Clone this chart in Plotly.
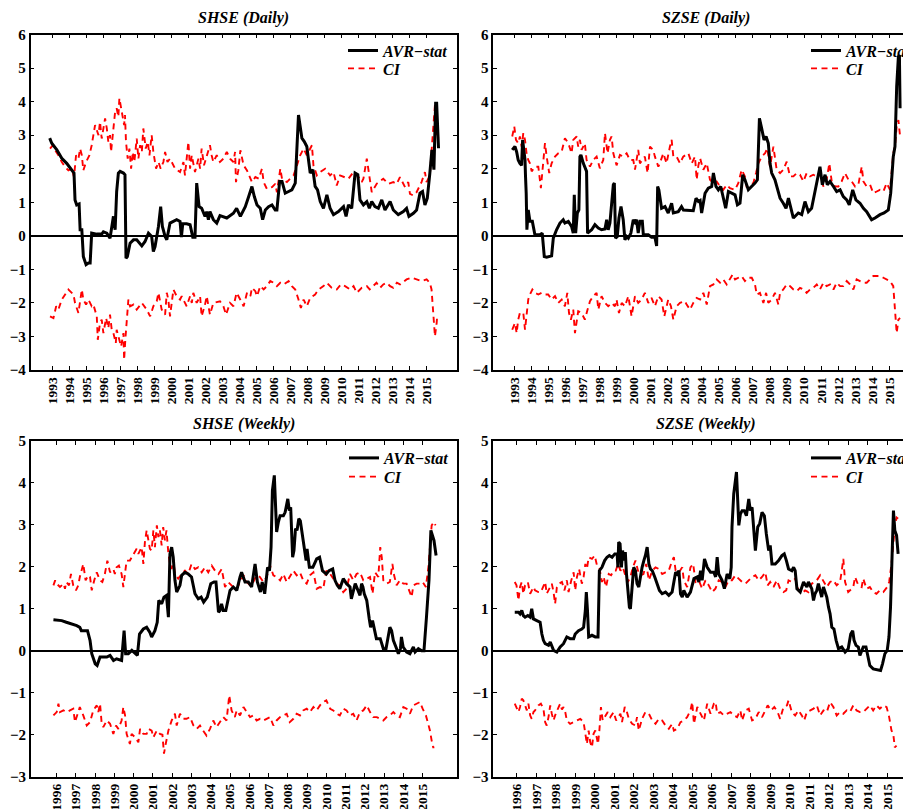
import plotly.graph_objects as go

# The page body has an 8px margin, so the figure is drawn 8px in from the top-left corner.
OFF = 8
PAGE_W, PAGE_H = 911, 809
W, H = PAGE_W - OFF, PAGE_H - OFF
FONT = "Liberation Serif"

# ---------------- data: (year, value) ----------------
shse_daily_avr = [
(1992.82,2.91),(1992.94,2.76),(1993.24,2.56),(1993.53,2.31),(1993.82,2.16),(1994.10,1.97),(1994.25,1.87),
(1994.31,1.07),(1994.41,0.92),(1994.55,0.95),(1994.61,0.18),(1994.71,0.18),(1994.80,-0.62),(1994.96,-0.86),
(1995.10,-0.81),(1995.20,-0.81),(1995.29,0.08),(1995.59,0.05),(1995.88,0.05),(1995.98,0.12),(1996.18,0.08),
(1996.37,-0.07),(1996.57,0.58),(1996.67,0.18),(1996.76,1.32),(1996.86,1.87),(1996.96,1.92),(1997.16,1.87),
(1997.25,1.82),(1997.31,-0.67),(1997.39,-0.62),(1997.55,-0.22),(1997.75,-0.12),(1997.94,-0.12),(1998.14,-0.22),
(1998.24,-0.30),(1998.43,-0.17),(1998.63,0.08),(1998.82,-0.02),(1998.92,-0.47),(1999.02,-0.32),(1999.22,0.28),
(1999.35,0.87),(1999.45,0.28),(1999.61,-0.02),(1999.71,-0.12),(1999.90,0.38),(2000.10,0.43),(2000.29,0.48),
(2000.49,0.43),(2000.57,-0.04),(2000.65,0.36),(2000.88,0.36),(2001.08,0.33),(2001.24,-0.04),(2001.37,-0.04),
(2001.47,1.57),(2001.61,0.87),(2001.76,0.82),(2001.96,0.58),(2002.06,0.72),(2002.16,0.48),(2002.25,0.72),
(2002.45,0.48),(2002.65,0.38),(2002.84,0.60),(2003.24,0.53),(2003.63,0.67),(2003.82,0.82),(2004.04,0.58),
(2004.33,0.87),(2004.53,1.17),(2004.72,1.47),(2004.86,1.17),(2005.02,0.92),(2005.21,0.82),(2005.35,0.48),
(2005.51,0.77),(2005.70,0.87),(2005.90,0.92),(2006.09,0.77),(2006.19,0.77),(2006.35,1.62),(2006.49,1.62),
(2006.68,1.27),(2006.88,1.32),(2007.07,1.37),(2007.27,1.57),(2007.37,2.66),(2007.46,3.60),(2007.56,3.26),
(2007.66,2.91),(2007.80,2.81),(2007.95,2.66),(2008.05,2.26),(2008.15,1.87),(2008.31,1.97),(2008.44,1.47),
(2008.58,1.37),(2008.74,1.02),(2008.93,0.82),(2009.13,1.22),(2009.32,0.82),(2009.52,0.63),(2009.81,0.72),
(2010.11,0.87),(2010.26,0.58),(2010.40,0.92),(2010.59,0.82),(2010.79,1.87),(2010.95,1.82),(2011.08,1.07),
(2011.28,0.92),(2011.48,1.02),(2011.63,0.82),(2011.77,1.02),(2011.96,0.87),(2012.16,0.82),(2012.36,1.07),
(2012.55,0.77),(2012.85,1.02),(2013.04,0.77),(2013.33,0.63),(2013.63,0.72),(2013.82,0.82),(2013.96,0.58),
(2014.22,0.67),(2014.41,0.77),(2014.61,1.27),(2014.76,1.32),(2014.90,0.92),(2015.04,1.12),(2015.19,1.87),
(2015.31,2.56),(2015.43,1.97),(2015.53,3.95),(2015.59,3.95),(2015.64,3.06),(2015.70,2.61)]

shse_daily_ci_up = [
(1992.84,2.6),(1993.00,2.7),(1993.14,2.55),(1993.33,2.4),(1993.53,2.2),(1993.73,2.05),(1993.92,1.95),
(1994.12,2.0),(1994.25,1.75),(1994.37,2.4),(1994.51,2.3),(1994.61,2.6),(1994.71,2.4),(1994.80,1.95),
(1994.96,2.2),(1995.16,2.4),(1995.29,2.7),(1995.49,3.3),(1995.69,3.0),(1995.78,3.4),(1995.88,2.9),
(1996.08,3.5),(1996.18,3.2),(1996.27,2.8),(1996.37,3.0),(1996.43,2.5),(1996.67,3.7),(1996.76,3.8),
(1996.86,3.55),(1996.92,4.1),(1997.06,3.7),(1997.20,3.3),(1997.25,3.6),(1997.31,2.8),(1997.41,2.3),
(1997.51,2.6),(1997.61,2.0),(1997.71,2.5),(1997.80,2.2),(1997.94,2.9),(1998.04,2.3),(1998.14,2.7),
(1998.24,2.5),(1998.33,3.2),(1998.47,2.6),(1998.59,2.8),(1998.69,2.4),(1998.82,3.0),(1998.92,2.5),
(1999.08,2.0),(1999.22,2.2),(1999.35,2.0),(1999.51,2.2),(1999.61,2.5),(1999.75,2.2),(1999.90,2.3),
(2000.20,2.0),(2000.49,1.9),(2000.69,2.2),(2000.78,1.8),(2000.88,2.3),(2000.98,2.8),(2001.08,2.0),
(2001.18,2.4),(2001.37,1.9),(2001.57,2.3),(2001.67,2.0),(2001.76,2.6),(2001.90,2.1),(2002.06,2.4),
(2002.25,2.7),(2002.35,2.4),(2002.45,2.2),(2002.65,2.4),(2002.84,2.2),(2003.04,2.3),(2003.24,2.5),
(2003.43,2.3),(2003.63,2.2),(2003.73,2.5),(2003.78,1.6),(2003.92,1.95),(2004.04,2.55),(2004.23,2.1),
(2004.43,1.95),(2004.72,1.6),(2004.92,1.75),(2005.12,1.7),(2005.31,2.0),(2005.41,1.6),(2005.60,1.4),
(2005.90,1.45),(2006.09,1.55),(2006.19,1.3),(2006.39,2.0),(2006.49,1.7),(2006.78,1.6),(2006.97,1.7),
(2007.17,1.8),(2007.37,2.1),(2007.56,2.4),(2007.76,2.6),(2007.95,2.4),(2008.25,2.7),(2008.34,2.1),
(2008.54,1.8),(2008.74,1.9),(2009.03,2.0),(2009.32,1.8),(2009.52,1.9),(2009.71,1.5),(2009.91,1.8),
(2010.20,1.75),(2010.40,1.7),(2010.69,1.9),(2010.99,1.75),(2011.18,1.6),(2011.28,1.7),(2011.48,2.3),
(2011.67,1.6),(2011.77,1.3),(2012.06,1.55),(2012.45,1.7),(2012.75,1.55),(2013.04,1.6),(2013.24,1.55),
(2013.43,1.75),(2013.73,1.45),(2013.92,1.6),(2014.02,1.25),(2014.22,1.2),(2014.41,1.3),(2014.61,1.5),
(2014.70,1.6),(2014.90,1.9),(2015.00,1.6),(2015.19,1.8),(2015.29,2.4),(2015.43,3.5),(2015.49,3.9),
(2015.59,3.0),(2015.62,3.4),(2015.68,2.9)]

shse_daily_ci_low = [
(1992.84,-2.4),(1993.04,-2.45),(1993.20,-2.1),(1993.33,-2.2),(1993.53,-1.9),(1993.73,-1.75),(1993.92,-1.6),
(1994.12,-1.7),(1994.22,-1.75),(1994.31,-2.0),(1994.51,-2.3),(1994.61,-1.95),(1994.71,-1.6),(1994.80,-1.9),
(1994.96,-2.05),(1995.10,-1.9),(1995.29,-2.1),(1995.39,-2.05),(1995.59,-2.4),(1995.65,-3.1),(1995.78,-2.6),
(1995.88,-2.5),(1995.98,-2.9),(1996.14,-2.45),(1996.27,-2.75),(1996.37,-2.35),(1996.47,-2.8),(1996.57,-2.9),
(1996.71,-3.2),(1996.76,-2.8),(1996.92,-3.1),(1997.02,-3.3),(1997.16,-2.9),(1997.20,-3.7),(1997.27,-3.1),
(1997.35,-2.5),(1997.45,-1.9),(1997.55,-2.1),(1997.75,-2.05),(1997.94,-2.2),(1998.24,-2.0),(1998.53,-2.2),
(1998.73,-2.4),(1998.92,-2.1),(1999.12,-1.95),(1999.22,-1.7),(1999.41,-2.2),(1999.61,-2.35),(1999.71,-1.7),
(1999.80,-1.9),(1999.90,-2.4),(2000.10,-1.6),(2000.29,-1.8),(2000.49,-1.9),(2000.59,-1.8),(2000.78,-2.0),
(2000.88,-2.1),(2001.08,-1.8),(2001.18,-2.0),(2001.27,-1.7),(2001.47,-2.0),(2001.67,-1.8),(2001.76,-2.4),
(2001.96,-2.05),(2002.06,-1.8),(2002.25,-2.35),(2002.45,-2.0),(2002.84,-1.95),(2003.04,-2.1),(2003.20,-2.35),
(2003.43,-2.0),(2003.63,-2.1),(2003.82,-1.7),(2004.03,-1.9),(2004.23,-2.1),(2004.43,-1.7),(2004.63,-1.8),
(2004.72,-1.55),(2004.92,-1.65),(2005.02,-1.8),(2005.21,-1.5),(2005.41,-1.6),(2005.60,-1.5),(2005.80,-1.35),
(2006.00,-1.4),(2006.19,-1.5),(2006.39,-1.4),(2006.58,-1.45),(2006.88,-1.35),(2007.07,-1.5),(2007.27,-1.6),
(2007.46,-1.9),(2007.60,-2.15),(2007.76,-1.9),(2007.95,-2.1),(2008.15,-1.85),(2008.44,-1.75),(2008.64,-1.6),
(2008.93,-1.5),(2009.13,-1.4),(2009.42,-1.55),(2009.71,-1.6),(2009.95,-1.45),(2010.20,-1.5),(2010.50,-1.6),
(2010.70,-1.5),(2010.89,-1.7),(2011.18,-1.55),(2011.48,-1.5),(2011.65,-1.6),(2011.87,-1.5),(2012.05,-1.4),
(2012.26,-1.55),(2012.45,-1.45),(2012.65,-1.4),(2012.85,-1.5),(2013.04,-1.55),(2013.25,-1.4),(2013.43,-1.45),
(2013.65,-1.35),(2013.82,-1.3),(2014.12,-1.25),(2014.41,-1.3),(2014.70,-1.35),(2015.00,-1.3),(2015.19,-1.4),
(2015.29,-1.6),(2015.39,-2.4),(2015.49,-3.0),(2015.59,-2.6),(2015.62,-2.4)]

szse_daily_avr = [
(1992.88,2.56),(1993.04,2.66),(1993.14,2.50),(1993.23,2.26),(1993.33,2.16),(1993.43,2.10),(1993.49,2.86),
(1993.57,2.50),(1993.63,2.26),(1993.66,1.77),(1993.70,1.27),(1993.74,0.18),(1993.82,0.77),(1993.92,0.43),
(1994.06,0.43),(1994.21,0.03),(1994.51,0.03),(1994.64,0.08),(1994.76,-0.62),(1994.90,-0.64),(1995.19,-0.60),
(1995.29,-0.07),(1995.48,0.18),(1995.68,0.38),(1995.87,0.48),(1995.97,0.38),(1996.17,0.43),(1996.36,0.28),
(1996.46,0.08),(1996.52,1.22),(1996.60,0.08),(1996.70,0.68),(1996.79,0.77),(1996.85,2.36),(1996.91,2.41),
(1997.05,2.16),(1997.18,1.97),(1997.24,1.92),(1997.30,0.08),(1997.54,0.18),(1997.73,0.33),(1997.93,0.23),
(1998.12,0.18),(1998.32,0.20),(1998.42,0.48),(1998.51,0.18),(1998.61,0.38),(1998.71,0.87),(1998.81,1.52),
(1998.87,1.57),(1998.94,-0.07),(1999.04,-0.02),(1999.14,0.53),(1999.26,0.87),(1999.39,0.48),(1999.49,-0.12),
(1999.59,-0.02),(1999.69,-0.07),(1999.84,0.08),(1999.98,0.48),(2000.08,0.40),(2000.17,0.48),(2000.27,0.08),
(2000.37,0.43),(2000.51,0.43),(2000.57,0.03),(2000.86,0.03),(2001.05,-0.04),(2001.25,-0.04),(2001.35,-0.30),
(2001.41,1.47),(2001.48,1.37),(2001.64,0.82),(2001.84,0.87),(2002.03,0.68),(2002.23,0.97),(2002.33,0.68),
(2002.62,0.72),(2002.81,0.87),(2002.92,0.77),(2003.50,0.75),(2003.66,1.12),(2003.80,1.02),(2003.90,1.05),
(2003.99,0.68),(2004.19,1.27),(2004.38,1.42),(2004.58,1.47),(2004.68,1.87),(2004.83,1.47),(2004.97,1.37),
(2005.11,1.47),(2005.26,1.17),(2005.40,0.82),(2005.56,1.32),(2005.75,1.27),(2005.95,1.22),(2006.09,0.92),
(2006.24,0.97),(2006.40,1.82),(2006.53,1.67),(2006.73,1.37),(2006.93,1.47),(2007.12,1.57),(2007.26,1.67),
(2007.38,3.50),(2007.51,3.20),(2007.65,2.86),(2007.77,2.96),(2007.90,2.76),(2008.00,2.16),(2008.10,1.87),
(2008.29,1.67),(2008.43,1.37),(2008.59,1.12),(2008.78,0.97),(2008.94,0.82),(2009.08,1.12),(2009.23,0.77),
(2009.37,0.53),(2009.66,0.68),(2009.86,0.63),(2010.05,1.02),(2010.25,0.72),(2010.44,0.82),(2010.64,1.32),
(2010.78,1.77),(2010.93,2.06),(2011.07,1.52),(2011.23,1.82),(2011.36,1.52),(2011.52,1.62),(2011.72,1.47),
(2011.91,1.32),(2012.11,1.37),(2012.30,1.17),(2012.50,1.07),(2012.65,0.92),(2012.85,1.37),(2013.04,1.07),
(2013.28,0.97),(2013.48,0.82),(2013.67,0.72),(2013.87,0.58),(2013.96,0.48),(2014.16,0.53),(2014.45,0.63),
(2014.69,0.68),(2014.94,0.77),(2015.08,1.27),(2015.23,2.36),(2015.33,2.66),(2015.43,4.45),(2015.53,5.34),
(2015.59,5.39),(2015.63,3.80)]

szse_daily_ci_up = [
(1992.88,2.96),(1993.00,3.26),(1993.10,2.86),(1993.23,2.76),(1993.33,2.96),(1993.43,2.66),(1993.53,3.06),
(1993.63,2.86),(1993.72,2.46),(1993.82,2.26),(1993.92,2.16),(1994.02,1.92),(1994.21,2.06),(1994.41,2.06),
(1994.56,1.42),(1994.64,1.87),(1994.80,2.76),(1994.90,2.36),(1995.05,1.87),(1995.19,2.16),(1995.39,2.36),
(1995.58,2.46),(1995.78,2.51),(1995.97,2.91),(1996.17,2.76),(1996.36,2.46),(1996.46,2.86),(1996.66,2.96),
(1996.75,2.66),(1996.85,2.86),(1996.95,2.56),(1997.14,2.76),(1997.24,2.26),(1997.44,2.06),(1997.63,2.26),
(1997.83,2.36),(1998.02,2.01),(1998.22,2.26),(1998.32,3.06),(1998.47,2.46),(1998.61,2.86),(1998.71,2.96),
(1998.81,2.46),(1999.00,2.10),(1999.20,2.41),(1999.39,2.36),(1999.59,2.46),(1999.78,2.26),(1999.98,2.26),
(2000.08,1.97),(2000.27,2.56),(2000.37,2.16),(2000.66,2.36),(2000.82,1.87),(2000.96,2.66),(2001.15,2.56),
(2001.25,2.36),(2001.45,2.06),(2001.54,2.16),(2001.74,2.46),(2001.93,2.16),(2002.13,2.66),(2002.23,2.86),
(2002.33,2.36),(2002.52,2.36),(2002.72,2.16),(2002.91,2.36),(2003.21,2.46),(2003.41,2.16),(2003.60,2.36),
(2003.70,1.67),(2003.80,2.10),(2003.90,2.31),(2004.09,1.97),(2004.29,2.16),(2004.48,1.67),(2004.68,1.57),
(2004.87,1.62),(2005.07,1.47),(2005.26,1.37),(2005.46,1.52),(2005.65,1.42),(2005.95,1.37),(2006.14,1.57),
(2006.34,1.97),(2006.53,1.77),(2006.63,1.47),(2006.83,1.52),(2007.02,1.57),(2007.18,1.87),(2007.32,2.16),
(2007.51,2.36),(2007.71,2.46),(2007.84,2.61),(2008.00,2.06),(2008.20,2.66),(2008.39,1.97),(2008.59,1.87),
(2008.78,1.97),(2008.98,2.21),(2009.17,1.77),(2009.37,1.77),(2009.57,1.87),(2009.76,1.82),(2009.96,1.62),
(2010.15,1.87),(2010.35,1.77),(2010.54,1.82),(2010.74,1.77),(2010.93,1.87),(2011.13,1.47),(2011.32,1.67),
(2011.48,2.16),(2011.62,1.62),(2011.81,1.47),(2012.01,1.47),(2012.20,1.62),(2012.40,1.87),(2012.60,1.67),
(2012.79,1.62),(2012.99,1.47),(2013.18,1.52),(2013.38,2.06),(2013.48,1.62),(2013.67,1.47),(2013.87,1.52),
(2014.06,1.27),(2014.26,1.32),(2014.45,1.37),(2014.65,1.32),(2014.84,1.57),(2015.04,1.37),(2015.23,2.46),
(2015.33,2.66),(2015.43,3.26),(2015.53,3.45),(2015.63,2.96)]

szse_daily_ci_low = [
(1992.88,-2.8),(1993.04,-2.6),(1993.14,-2.9),(1993.23,-2.5),(1993.33,-2.3),(1993.53,-2.3),(1993.63,-2.8),
(1993.72,-2.3),(1993.82,-1.9),(1993.92,-1.75),(1994.06,-1.6),(1994.21,-1.7),(1994.41,-1.75),(1994.60,-1.7),
(1994.80,-1.75),(1994.99,-1.75),(1995.19,-1.9),(1995.39,-1.8),(1995.58,-2.0),(1995.78,-1.9),(1995.97,-2.1),
(1996.11,-1.7),(1996.21,-2.3),(1996.32,-2.5),(1996.46,-2.2),(1996.56,-2.9),(1996.66,-2.5),(1996.75,-2.25),
(1996.95,-2.3),(1997.14,-2.5),(1997.30,-2.2),(1997.44,-1.95),(1997.63,-1.8),(1997.83,-1.7),(1997.93,-2.2),
(1998.12,-1.8),(1998.32,-2.0),(1998.51,-2.1),(1998.71,-2.0),(1998.90,-2.1),(1999.00,-1.9),(1999.14,-2.3),
(1999.30,-2.0),(1999.49,-2.1),(1999.69,-1.8),(1999.88,-2.4),(2000.08,-1.8),(2000.27,-2.0),(2000.47,-1.9),
(2000.66,-1.7),(2000.86,-2.0),(2001.05,-1.85),(2001.25,-2.1),(2001.45,-1.8),(2001.64,-1.9),(2001.80,-2.4),
(2002.03,-1.9),(2002.19,-2.1),(2002.33,-2.5),(2002.52,-2.1),(2002.72,-2.0),(2003.01,-1.95),(2003.11,-2.05),
(2003.31,-2.2),(2003.50,-2.0),(2003.70,-1.85),(2003.90,-1.9),(2004.09,-1.7),(2004.29,-2.05),(2004.48,-1.5),
(2004.68,-1.45),(2004.87,-1.3),(2005.07,-1.4),(2005.26,-1.3),(2005.46,-1.45),(2005.65,-1.3),(2005.81,-1.15),
(2005.95,-1.3),(2006.14,-1.25),(2006.34,-1.2),(2006.53,-1.35),(2006.73,-1.25),(2006.93,-1.25),(2007.12,-1.45),
(2007.22,-1.75),(2007.41,-1.7),(2007.61,-2.0),(2007.77,-1.7),(2007.90,-2.0),(2008.10,-1.9),(2008.29,-1.7),
(2008.49,-2.05),(2008.59,-1.7),(2008.78,-1.6),(2008.98,-1.45),(2009.17,-1.5),(2009.37,-1.6),(2009.57,-1.65),
(2009.76,-1.55),(2009.96,-1.6),(2010.15,-1.7),(2010.35,-1.6),(2010.54,-1.55),(2010.74,-1.45),(2010.93,-1.6),
(2011.13,-1.4),(2011.32,-1.5),(2011.52,-1.45),(2011.72,-1.6),(2011.91,-1.4),(2012.11,-1.5),(2012.30,-1.5),
(2012.50,-1.35),(2012.69,-1.45),(2012.89,-1.6),(2013.08,-1.3),(2013.28,-1.35),(2013.48,-1.4),(2013.67,-1.4),
(2013.87,-1.3),(2014.06,-1.2),(2014.26,-1.2),(2014.45,-1.2),(2014.65,-1.25),(2014.84,-1.3),(2015.04,-1.35),
(2015.23,-1.5),(2015.33,-2.1),(2015.43,-2.9),(2015.53,-2.5),(2015.63,-2.45)]

shse_weekly_avr = [
(1995.83,0.74),(1996.26,0.72),(1996.50,0.68),(1996.78,0.64),(1997.04,0.60),(1997.20,0.56),(1997.28,0.48),
(1997.60,0.48),(1997.73,0.25),(1997.82,-0.07),(1998.00,-0.31),(1998.10,-0.35),(1998.25,-0.15),(1998.60,-0.15),
(1998.77,-0.11),(1998.95,-0.23),(1999.11,-0.19),(1999.37,-0.23),(1999.50,0.48),(1999.58,-0.07),(1999.72,-0.07),
(1999.90,0.01),(2000.07,-0.07),(2000.19,-0.11),(2000.30,0.40),(2000.50,0.52),(2000.67,0.56),(2000.84,0.44),
(2000.93,0.33),(2001.10,0.48),(2001.22,0.68),(2001.30,1.20),(2001.45,1.12),(2001.57,1.28),(2001.70,1.32),
(2001.80,0.80),(2001.88,2.31),(2001.97,2.47),(2002.05,2.23),(2002.14,1.68),(2002.23,1.40),(2002.40,1.56),
(2002.49,1.80),(2002.66,1.87),(2002.83,1.83),(2003.00,1.76),(2003.18,1.36),(2003.35,1.24),(2003.50,1.28),
(2003.63,1.16),(2003.82,1.28),(2004.00,1.60),(2004.17,1.64),(2004.27,1.64),(2004.40,0.92),(2004.48,0.96),
(2004.56,1.12),(2004.65,0.96),(2004.78,0.96),(2005.00,1.44),(2005.17,1.52),(2005.35,1.44),(2005.52,1.76),
(2005.60,1.87),(2005.78,1.64),(2005.95,1.64),(2006.12,1.52),(2006.30,2.07),(2006.42,1.64),(2006.58,1.40),
(2006.67,1.64),(2006.80,1.36),(2006.95,1.99),(2007.05,1.91),(2007.13,2.47),(2007.20,3.82),(2007.30,4.18),
(2007.36,3.66),(2007.42,2.83),(2007.51,3.07),(2007.60,3.22),(2007.77,3.22),(2007.86,3.30),(2008.00,3.62),
(2008.08,3.34),(2008.15,3.42),(2008.25,2.23),(2008.32,2.39),(2008.40,2.91),(2008.48,2.87),(2008.57,3.15),
(2008.65,3.10),(2008.80,2.67),(2008.95,2.15),(2009.00,2.43),(2009.12,1.99),(2009.30,1.99),(2009.50,2.19),
(2009.65,2.23),(2009.80,1.91),(2010.00,1.83),(2010.14,1.91),(2010.33,1.95),(2010.45,1.68),(2010.57,1.56),
(2010.70,1.48),(2010.88,1.72),(2011.05,1.60),(2011.23,1.52),(2011.30,1.24),(2011.50,1.60),(2011.66,1.44),
(2011.75,1.32),(2011.83,1.60),(2011.90,1.52),(2011.97,1.36),(2012.10,1.20),(2012.23,0.76),(2012.30,0.56),
(2012.40,0.72),(2012.53,0.40),(2012.60,0.29),(2012.80,0.29),(2012.96,0.05),(2013.10,0.05),(2013.22,0.37),
(2013.30,0.56),(2013.39,0.48),(2013.48,0.25),(2013.65,0.05),(2013.74,-0.07),(2013.85,0.05),(2013.90,0.33),
(2013.99,0.09),(2014.17,-0.03),(2014.34,-0.07),(2014.52,0.09),(2014.61,-0.03),(2014.78,0.05),(2014.95,0.00),
(2015.07,0.00),(2015.20,0.80),(2015.33,1.68),(2015.43,2.87),(2015.51,2.75),(2015.59,2.63),(2015.70,2.27)]

shse_weekly_ci_up = [
(1995.83,1.56),(1995.92,1.68),(1996.00,1.60),(1996.17,1.52),(1996.35,1.60),(1996.43,1.48),(1996.50,1.64),
(1996.64,1.56),(1996.74,1.83),(1996.86,1.56),(1997.00,1.44),(1997.12,1.56),(1997.20,1.76),(1997.38,2.07),
(1997.50,1.68),(1997.64,1.80),(1997.73,1.76),(1997.82,1.44),(1997.95,1.68),(1998.08,1.87),(1998.25,1.68),
(1998.37,1.64),(1998.50,1.83),(1998.63,2.15),(1998.77,1.87),(1998.94,1.95),(1999.02,1.83),(1999.11,1.99),
(1999.23,2.03),(1999.37,1.83),(1999.46,1.52),(1999.55,1.91),(1999.63,2.15),(1999.80,2.15),(1999.98,2.31),
(2000.15,2.43),(2000.24,2.31),(2000.41,2.47),(2000.50,2.07),(2000.58,2.59),(2000.67,2.87),(2000.76,2.63),
(2000.84,2.43),(2000.93,2.39),(2001.02,2.87),(2001.10,2.47),(2001.20,2.99),(2001.28,2.71),(2001.36,2.87),
(2001.45,2.51),(2001.53,2.95),(2001.62,2.63),(2001.70,2.87),(2001.80,2.31),(2001.88,2.07),(2001.97,1.95),
(2002.05,2.19),(2002.14,1.83),(2002.31,1.72),(2002.49,1.83),(2002.66,1.91),(2002.83,1.83),(2003.00,2.07),
(2003.18,1.95),(2003.35,1.99),(2003.53,1.87),(2003.70,1.99),(2003.87,1.87),(2004.05,2.03),(2004.22,1.91),
(2004.40,1.83),(2004.57,1.95),(2004.74,1.52),(2004.90,1.64),(2005.08,1.56),(2005.25,1.48),(2005.35,1.48),
(2005.52,1.64),(2005.70,1.80),(2005.87,1.64),(2006.04,1.56),(2006.21,1.64),(2006.38,1.80),(2006.55,1.76),
(2006.73,1.64),(2006.90,1.76),(2007.08,2.03),(2007.25,1.80),(2007.42,1.76),(2007.60,1.68),(2007.77,1.83),
(2007.94,1.64),(2008.10,1.76),(2008.29,1.91),(2008.46,1.80),(2008.63,1.87),(2008.80,1.68),(2008.98,1.60),
(2009.15,1.80),(2009.33,1.87),(2009.50,1.48),(2009.67,1.52),(2009.84,1.48),(2010.00,1.91),(2010.20,1.83),
(2010.36,1.72),(2010.54,1.60),(2010.70,1.56),(2010.88,1.40),(2011.05,1.48),(2011.23,1.83),(2011.40,1.68),
(2011.57,1.83),(2011.75,1.87),(2011.92,1.68),(2012.10,1.72),(2012.27,1.76),(2012.40,1.36),(2012.53,1.87),
(2012.70,1.76),(2012.80,2.47),(2012.88,2.23),(2012.96,1.68),(2013.13,1.60),(2013.30,1.64),(2013.43,2.07),
(2013.52,1.80),(2013.65,1.56),(2013.82,1.68),(2014.00,1.60),(2014.17,1.60),(2014.43,1.28),(2014.52,1.56),
(2014.69,1.60),(2014.86,1.60),(2015.00,1.64),(2015.17,1.52),(2015.30,1.99),(2015.38,2.55),(2015.47,2.99),
(2015.59,3.07),(2015.67,2.99)]

shse_weekly_ci_low = [
(1995.83,-1.54),(1996.00,-1.46),(1996.09,-1.26),(1996.17,-1.46),(1996.35,-1.42),(1996.52,-1.46),(1996.69,-1.42),
(1996.86,-1.38),(1996.95,-1.70),(1997.12,-1.46),(1997.20,-1.34),(1997.38,-1.54),(1997.56,-1.78),(1997.73,-1.70),
(1997.90,-1.42),(1998.08,-1.30),(1998.16,-1.46),(1998.25,-1.26),(1998.33,-1.70),(1998.42,-1.82),(1998.60,-1.66),
(1998.77,-1.74),(1998.94,-1.98),(1999.08,-1.78),(1999.20,-1.86),(1999.37,-1.66),(1999.46,-1.34),(1999.55,-1.54),
(1999.63,-1.98),(1999.80,-2.22),(1999.89,-1.98),(2000.07,-2.06),(2000.24,-2.18),(2000.33,-1.86),(2000.50,-1.98),
(2000.67,-1.98),(2000.76,-1.86),(2000.93,-1.90),(2001.02,-2.06),(2001.20,-1.90),(2001.36,-1.98),(2001.49,-2.00),
(2001.57,-2.45),(2001.66,-2.22),(2001.80,-1.90),(2001.97,-1.66),(2002.14,-1.50),(2002.23,-1.78),(2002.40,-1.50),
(2002.57,-1.62),(2002.74,-1.62),(2002.92,-1.58),(2003.10,-1.78),(2003.27,-1.86),(2003.44,-1.78),(2003.60,-1.90),
(2003.78,-2.02),(2003.96,-1.86),(2004.13,-1.66),(2004.30,-1.82),(2004.48,-1.70),(2004.65,-1.58),(2004.82,-1.66),
(2004.96,-1.06),(2005.08,-1.42),(2005.25,-1.58),(2005.35,-1.42),(2005.52,-1.54),(2005.70,-1.34),(2005.87,-1.46),
(2006.04,-1.58),(2006.21,-1.54),(2006.38,-1.66),(2006.56,-1.62),(2006.73,-1.66),(2006.90,-1.62),(2007.08,-1.58),
(2007.25,-1.78),(2007.42,-1.66),(2007.60,-1.58),(2007.77,-1.54),(2007.94,-1.50),(2008.10,-1.70),(2008.29,-1.62),
(2008.46,-1.50),(2008.63,-1.54),(2008.80,-1.42),(2008.98,-1.38),(2009.15,-1.46),(2009.33,-1.34),(2009.50,-1.42),
(2009.67,-1.30),(2009.84,-1.22),(2010.00,-1.18),(2010.20,-1.38),(2010.36,-1.42),(2010.54,-1.50),(2010.70,-1.54),
(2010.88,-1.38),(2011.05,-1.42),(2011.23,-1.54),(2011.40,-1.50),(2011.57,-1.66),(2011.75,-1.46),(2011.92,-1.42),
(2012.10,-1.30),(2012.27,-1.46),(2012.44,-1.58),(2012.62,-1.58),(2012.80,-1.62),(2012.96,-1.66),(2013.13,-1.58),
(2013.30,-1.54),(2013.48,-1.46),(2013.65,-1.54),(2013.82,-1.58),(2014.00,-1.34),(2014.17,-1.38),(2014.34,-1.50),
(2014.52,-1.30),(2014.69,-1.26),(2014.86,-1.22),(2015.00,-1.38),(2015.17,-1.54),(2015.29,-1.74),(2015.38,-1.90),
(2015.47,-2.14),(2015.55,-2.30),(2015.61,-2.30)]

szse_weekly_avr = [
(1995.90,0.92),(1996.09,0.92),(1996.17,0.88),(1996.26,0.96),(1996.34,0.84),(1996.43,0.80),(1996.57,0.84),
(1996.69,0.80),(1996.77,1.00),(1996.86,0.76),(1997.03,0.72),(1997.20,0.68),(1997.29,0.40),(1997.37,0.25),
(1997.46,0.17),(1997.63,0.13),(1997.72,0.21),(1997.80,0.13),(1997.89,0.01),(1998.06,-0.03),(1998.23,0.09),
(1998.40,0.17),(1998.57,0.33),(1998.74,0.29),(1998.92,0.29),(1999.00,0.40),(1999.17,0.48),(1999.34,0.52),
(1999.43,0.56),(1999.52,0.96),(1999.57,1.40),(1999.63,0.96),(1999.69,0.33),(1999.86,0.37),(2000.03,0.33),
(2000.17,0.33),(2000.24,1.91),(2000.37,1.99),(2000.51,2.15),(2000.63,2.23),(2000.75,2.27),(2000.89,2.23),
(2001.03,2.31),(2001.15,2.31),(2001.19,1.99),(2001.23,2.59),(2001.30,2.55),(2001.37,1.99),(2001.43,2.39),
(2001.49,2.15),(2001.57,2.35),(2001.63,1.83),(2001.71,1.28),(2001.78,1.04),(2001.83,1.00),(2001.92,1.52),
(2002.00,1.99),(2002.09,1.91),(2002.17,1.60),(2002.26,1.52),(2002.35,1.83),(2002.43,1.99),(2002.52,2.15),
(2002.60,2.27),(2002.69,2.47),(2002.78,2.07),(2002.86,1.95),(2002.95,1.91),(2003.08,1.76),(2003.20,1.60),
(2003.32,1.44),(2003.46,1.36),(2003.63,1.40),(2003.80,1.32),(2003.97,1.40),(2004.06,1.64),(2004.15,1.87),
(2004.23,1.83),(2004.32,1.91),(2004.40,1.36),(2004.49,1.28),(2004.57,1.44),(2004.74,1.28),(2004.91,1.40),
(2005.09,1.72),(2005.26,1.76),(2005.34,1.64),(2005.43,1.91),(2005.51,1.68),(2005.63,2.19),(2005.77,1.99),
(2005.94,1.87),(2006.11,1.87),(2006.20,1.76),(2006.28,2.23),(2006.36,1.83),(2006.53,1.68),(2006.65,1.48),
(2006.79,1.83),(2006.93,1.72),(2007.00,1.99),(2007.04,2.95),(2007.13,3.74),(2007.27,4.26),(2007.33,3.74),
(2007.39,2.99),(2007.47,3.26),(2007.56,3.34),(2007.67,3.34),(2007.78,3.22),(2007.90,3.62),(2007.98,3.34),
(2008.07,3.42),(2008.15,2.87),(2008.24,2.39),(2008.36,2.95),(2008.46,3.03),(2008.58,3.30),(2008.70,3.22),
(2008.80,2.79),(2008.92,2.39),(2009.00,2.51),(2009.09,2.07),(2009.26,2.07),(2009.43,2.15),(2009.60,2.27),
(2009.72,2.31),(2009.83,2.15),(2009.94,1.95),(2010.11,1.91),(2010.20,1.99),(2010.28,1.91),(2010.37,1.48),
(2010.54,1.40),(2010.71,1.64),(2010.88,1.52),(2010.96,1.64),(2011.13,1.48),(2011.22,1.20),(2011.30,1.36),
(2011.39,1.44),(2011.47,1.60),(2011.56,1.40),(2011.64,1.28),(2011.73,1.52),(2011.82,1.36),(2011.90,1.28),
(2011.99,1.04),(2012.07,0.88),(2012.16,0.56),(2012.27,0.52),(2012.38,0.25),(2012.50,0.05),(2012.67,0.09),
(2012.84,-0.03),(2013.00,0.05),(2013.13,0.40),(2013.23,0.48),(2013.30,0.25),(2013.40,0.13),(2013.52,0.09),
(2013.60,-0.11),(2013.77,0.09),(2013.91,0.09),(2014.03,-0.15),(2014.11,-0.35),(2014.28,-0.43),(2014.54,-0.47),
(2014.66,-0.47),(2014.76,-0.31),(2014.88,-0.07),(2015.00,0.01),(2015.09,0.33),(2015.17,1.04),(2015.26,2.47),
(2015.32,3.34),(2015.39,2.87),(2015.48,2.75),(2015.56,2.31)]

szse_weekly_ci_up = [
(1995.90,1.64),(1995.99,1.56),(1996.09,1.20),(1996.17,1.52),(1996.26,1.64),(1996.34,1.36),(1996.43,1.56),
(1996.57,1.64),(1996.69,1.36),(1996.86,1.52),(1996.94,1.44),(1997.11,1.40),(1997.24,1.40),(1997.37,1.56),
(1997.46,1.64),(1997.54,1.36),(1997.72,1.52),(1997.80,1.60),(1997.89,1.40),(1997.97,1.12),(1998.06,1.52),
(1998.18,1.60),(1998.32,1.64),(1998.45,1.44),(1998.57,1.68),(1998.66,1.40),(1998.80,1.68),(1998.92,1.87),
(1999.00,1.44),(1999.09,1.76),(1999.20,1.95),(1999.34,1.60),(1999.43,1.76),(1999.52,2.07),(1999.60,1.95),
(1999.69,2.23),(1999.86,2.19),(2000.00,2.27),(2000.12,2.03),(2000.24,1.99),(2000.37,1.64),(2000.46,1.76),
(2000.58,1.52),(2000.72,1.83),(2000.84,1.80),(2000.97,1.91),(2001.08,1.91),(2001.20,2.07),(2001.32,1.91),
(2001.44,1.99),(2001.57,1.80),(2001.70,1.64),(2001.83,1.76),(2001.96,1.99),(2002.09,2.15),(2002.22,1.91),
(2002.35,1.80),(2002.50,1.83),(2002.64,2.07),(2002.78,1.68),(2002.95,1.91),(2003.12,1.99),(2003.29,1.95),
(2003.46,1.83),(2003.63,1.87),(2003.80,1.91),(2003.97,2.15),(2004.06,2.23),(2004.15,1.91),(2004.32,1.87),
(2004.49,1.99),(2004.57,1.68),(2004.74,1.52),(2004.91,1.99),(2005.05,2.07),(2005.17,1.64),(2005.34,1.68),
(2005.51,1.48),(2005.68,1.68),(2005.85,1.56),(2006.02,1.40),(2006.19,1.48),(2006.36,1.68),(2006.53,1.64),
(2006.70,1.52),(2006.87,1.68),(2007.04,1.68),(2007.21,1.80),(2007.38,1.72),(2007.56,1.64),(2007.73,1.60),
(2007.90,1.68),(2008.07,1.76),(2008.24,1.80),(2008.41,1.68),(2008.58,1.76),(2008.75,1.87),(2008.87,1.56),
(2009.00,1.64),(2009.17,1.52),(2009.34,1.68),(2009.51,1.48),(2009.68,1.40),(2009.82,1.44),(2009.94,1.68),
(2010.11,1.64),(2010.28,1.72),(2010.45,1.44),(2010.62,1.36),(2010.79,1.44),(2010.96,1.40),(2011.13,1.60),
(2011.30,1.64),(2011.39,1.68),(2011.56,1.80),(2011.73,1.64),(2011.90,1.52),(2012.07,1.64),(2012.24,1.68),
(2012.41,1.56),(2012.58,1.64),(2012.67,1.91),(2012.75,2.19),(2012.84,1.64),(2013.00,1.40),(2013.18,1.48),
(2013.26,1.52),(2013.35,1.76),(2013.52,1.56),(2013.69,1.52),(2013.77,1.72),(2013.94,1.48),(2014.11,1.52),
(2014.28,1.40),(2014.45,1.36),(2014.62,1.44),(2014.80,1.40),(2015.00,1.52),(2015.10,1.64),(2015.22,2.07),
(2015.31,2.55),(2015.39,2.95),(2015.48,3.18),(2015.56,3.15)]

szse_weekly_ci_low = [
(1995.90,-1.26),(1995.99,-1.34),(1996.09,-1.46),(1996.17,-1.34),(1996.26,-1.14),(1996.34,-1.18),(1996.43,-1.30),
(1996.52,-1.42),(1996.60,-1.26),(1996.69,-1.54),(1996.77,-1.62),(1996.86,-1.46),(1996.94,-1.42),(1997.11,-1.30),
(1997.24,-1.26),(1997.37,-1.38),(1997.46,-1.70),(1997.54,-1.78),(1997.63,-1.58),(1997.72,-1.30),(1997.80,-1.50),
(1997.89,-1.66),(1997.97,-1.54),(1998.06,-1.42),(1998.15,-1.34),(1998.23,-1.26),(1998.32,-1.40),(1998.40,-1.34),
(1998.49,-1.46),(1998.57,-1.66),(1998.74,-1.74),(1998.92,-1.70),(1999.09,-1.66),(1999.26,-1.62),(1999.43,-1.70),
(1999.52,-1.94),(1999.60,-2.22),(1999.69,-1.90),(1999.77,-2.18),(1999.86,-2.30),(1999.94,-1.98),(2000.03,-1.90),
(2000.17,-2.22),(2000.24,-1.90),(2000.32,-1.34),(2000.41,-1.66),(2000.55,-1.54),(2000.67,-1.46),(2000.80,-1.58),
(2000.97,-1.46),(2001.10,-1.66),(2001.23,-1.58),(2001.32,-1.50),(2001.40,-1.70),(2001.54,-1.34),(2001.63,-1.42),
(2001.75,-1.62),(2001.92,-1.74),(2002.09,-1.78),(2002.17,-1.58),(2002.26,-1.90),(2002.43,-1.62),(2002.60,-1.46),
(2002.78,-1.50),(2002.95,-1.66),(2003.12,-1.74),(2003.29,-1.62),(2003.46,-1.66),(2003.63,-1.78),(2003.80,-1.86),
(2003.97,-1.74),(2004.06,-1.90),(2004.23,-1.86),(2004.40,-1.70),(2004.57,-1.66),(2004.74,-1.58),(2004.91,-1.42),
(2005.00,-1.22),(2005.09,-1.74),(2005.26,-1.34),(2005.43,-1.50),(2005.60,-1.66),(2005.77,-1.26),(2005.94,-1.50),
(2006.11,-1.26),(2006.20,-1.22),(2006.28,-1.50),(2006.45,-1.46),(2006.62,-1.54),(2006.79,-1.50),(2006.96,-1.46),
(2007.13,-1.54),(2007.30,-1.58),(2007.47,-1.42),(2007.56,-1.66),(2007.73,-1.42),(2007.90,-1.38),(2008.07,-1.66),
(2008.24,-1.62),(2008.41,-1.46),(2008.58,-1.58),(2008.75,-1.42),(2008.87,-1.30),(2009.04,-1.42),(2009.21,-1.34),
(2009.38,-1.46),(2009.51,-1.62),(2009.68,-1.34),(2009.86,-1.30),(2009.94,-1.18),(2010.11,-1.46),(2010.28,-1.54),
(2010.45,-1.42),(2010.62,-1.54),(2010.74,-1.66),(2010.88,-1.46),(2011.05,-1.42),(2011.22,-1.38),(2011.39,-1.30),
(2011.56,-1.54),(2011.73,-1.42),(2011.90,-1.46),(2012.07,-1.22),(2012.24,-1.34),(2012.41,-1.54),(2012.58,-1.46),
(2012.75,-1.50),(2012.92,-1.42),(2013.09,-1.46),(2013.26,-1.30),(2013.43,-1.42),(2013.60,-1.46),(2013.77,-1.46),
(2013.94,-1.38),(2014.11,-1.30),(2014.28,-1.42),(2014.45,-1.30),(2014.62,-1.38),(2014.80,-1.30),(2014.97,-1.34),
(2015.10,-1.58),(2015.22,-1.90),(2015.31,-1.98),(2015.39,-2.30),(2015.48,-2.26)]

daily_years = list(range(1993, 2016))
weekly_years = list(range(1996, 2016))
daily_yticks = list(range(-4, 7))
weekly_yticks = list(range(-3, 6))
titles = ["SHSE (Daily)", "SZSE (Daily)", "SHSE (Weekly)", "SZSE (Weekly)"]
legend_names = ["AVR\u2212stat", "CI"]

# ---------------- layout geometry (page pixels) ----------------
panels = [
    dict(avr=shse_daily_avr, up=shse_daily_ci_up, lo=shse_daily_ci_low, xpx=(30.5, 456.7), ypx=(34.5, 370),
         xr=[1991.69, 2016.77], yr=[-4, 6], xt=daily_years, yt=daily_yticks, tx=243.6, ty=17.5,
         lx=343, ly=(50.5, 68.5), right=False),
    dict(avr=szse_daily_avr, up=szse_daily_ci_up, lo=szse_daily_ci_low, xpx=(493.3, 911), ypx=(34.5, 370),
         xr=[1991.77, 2016.27], yr=[-4, 6], xt=daily_years, yt=daily_yticks, tx=705.5, ty=17.5,
         lx=806, ly=(50.5, 68.5), right=True),
    dict(avr=shse_weekly_avr, up=shse_weekly_ci_up, lo=shse_weekly_ci_low, xpx=(30.7, 456.7), ypx=(441, 776.7),
         xr=[1994.65, 2016.77], yr=[-3, 5], xt=weekly_years, yt=weekly_yticks, tx=243.6, ty=423.5,
         lx=344, ly=(458, 476.7), right=False),
    dict(avr=szse_weekly_avr, up=szse_weekly_ci_up, lo=szse_weekly_ci_low, xpx=(493.3, 911), ypx=(441, 776.7),
         xr=[1994.8, 2016.22], yr=[-3, 5], xt=weekly_years, yt=weekly_yticks, tx=705.5, ty=423.5,
         lx=806, ly=(458, 476.7), right=True),
]


def fx(px):
    return (px - OFF) / W


def fy(py):
    return 1 - (py - OFF) / H


fig = go.Figure()
xtickfont = dict(family=FONT, size=13.5, color="black", weight="bold")
ytickfont = dict(family=FONT, size=15, color="black", weight="bold")
legfont = dict(family=FONT, size=16, color="black", weight="bold", style="italic")
layout = dict(width=W, height=H, margin=dict(l=0, r=0, t=0, b=0, autoexpand=False),
              paper_bgcolor="white", plot_bgcolor="white", annotations=[])

for i, p in enumerate(panels):
    s = "" if i == 0 else str(i + 1)
    lg_avr = "legend" if i == 0 else "legend" + str(2 * i + 1)
    lg_ci = "legend" + str(2 * i + 2)
    xa, ya = "x" + s, "y" + s
    dash = dict(color="red", width=1.9, dash="6px,4.5px")
    fig.add_trace(go.Scatter(x=[a for a, b in p["up"]], y=[b for a, b in p["up"]], mode="lines",
                             line=dash, name=legend_names[1], xaxis=xa, yaxis=ya, legend=lg_ci, showlegend=True))
    fig.add_trace(go.Scatter(x=[a for a, b in p["lo"]], y=[b for a, b in p["lo"]], mode="lines",
                             line=dash, name=legend_names[1], xaxis=xa, yaxis=ya, legend=lg_ci, showlegend=False))
    fig.add_trace(go.Scatter(x=[a for a, b in p["avr"]], y=[b for a, b in p["avr"]], mode="lines",
                             line=dict(color="black", width=3), name=legend_names[0],
                             xaxis=xa, yaxis=ya, legend=lg_avr, showlegend=True))
    x0, x1 = p["xpx"]
    y0, y1 = p["ypx"]
    layout["xaxis" + s] = dict(domain=[fx(x0), min(1.0, fx(x1))], range=p["xr"], anchor=ya,
                               tickvals=p["xt"], ticktext=[str(v) for v in p["xt"]], tickangle=-90,
                               ticks="inside", ticklen=4, tickwidth=1, tickcolor="black",
                               showline=True, linecolor="black", linewidth=1.5, mirror="ticks",
                               showgrid=False, zeroline=False, tickfont=xtickfont)
    layout["yaxis" + s] = dict(domain=[fy(y1), fy(y0)], range=p["yr"], anchor=xa,
                               tickvals=p["yt"], ticktext=[str(v).replace("-", "\u2212") for v in p["yt"]],
                               ticks="inside", ticklen=4, tickwidth=1, tickcolor="black",
                               showline=True, linecolor="black", linewidth=1.5,
                               mirror=False if p["right"] else "ticks",
                               showgrid=False, zeroline=True, zerolinecolor="black", zerolinewidth=2,
                               tickfont=ytickfont)
    for lg, yc in ((lg_avr, p["ly"][0]), (lg_ci, p["ly"][1])):
        layout[lg] = dict(x=fx(p["lx"]), y=fy(yc), xanchor="left", yanchor="middle",
                          bgcolor="rgba(0,0,0,0)", borderwidth=0, font=legfont, itemwidth=30)
    layout["annotations"].append(dict(text=titles[i], x=fx(p["tx"]), y=fy(p["ty"]), xref="paper", yref="paper",
                                      xanchor="center", yanchor="middle", showarrow=False,
                                      font=dict(family=FONT, size=16, color="black", weight="bold", style="italic")))

fig.update_layout(**layout)
fig.write_html("out.html")
